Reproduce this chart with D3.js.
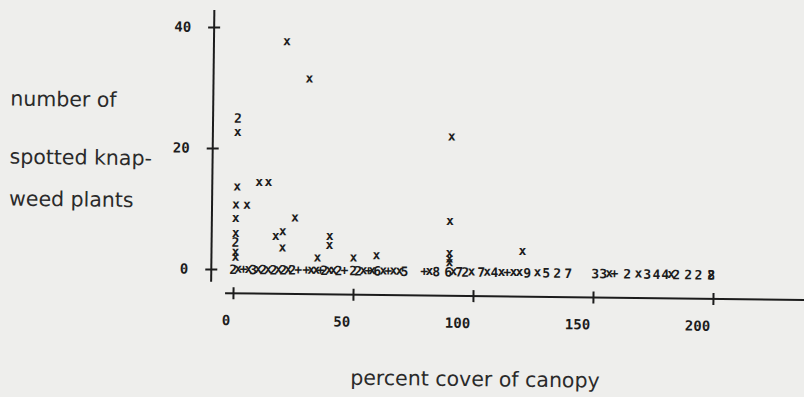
<!DOCTYPE html>
<html>
<head>
<meta charset="utf-8">
<script src="https://cdn.jsdelivr.net/npm/d3@7"></script>
<style>
  html, body { margin: 0; padding: 0; background: #eeeeec; }
  svg { display: block; }
</style>
</head>
<body>
<svg id="chart" width="804" height="397"></svg>
<script>
// ---- data ----
const xTicks = [0, 50, 100, 150, 200];
const yTicks = [0, 20, 40];
const xTitle = "percent cover of canopy";
const yTitleLines = ["number of", "spotted knap-", "weed plants"];

// single points printed as "x"
const crossX = [1.2, 21.2, 30.8, 90.4, 1.2, 10.4, 14.2, 0.8, 5.4, 0.8, 25.4, 17.5, 20.4, 20.4,
                0.8, 0.8, 0.8, 35, 40, 40, 50, 59.6, 90, 90, 90, 90, 120.4];
const crossY = [22.6, 37.7, 31.6, 22.3, 13.6, 14.4, 14.4, 10.6, 10.6, 8.4, 8.6, 5.5, 6.3, 3.6,
                5.9, 2.8, 2.0, 2.0, 5.6, 4.1, 2.1, 2.5, 8.3, 3.0, 2.1, 1.5, 3.5];

// overlapping points printed as a count
const countX = [1.2, 0.8];
const countY = [25.0, 4.5];
const countLabel = ["2", "2"];

// crowded row of points at zero plants (symbol printed at y = 0)
const baseX = [0, 2.1, 4.2, 6.3, 8.3, 10.4, 12.5, 14.6, 16.7, 18.8, 20.8, 22.9, 24.6, 27.1,
               30.4, 32.5, 34.6, 36.3, 37.9, 40, 41.7, 43.8, 46.3,
               50, 52.1, 54.2, 56.3, 57.9, 60, 62.5, 64.6, 66.7, 69.2, 71.3,
               79.6, 81.7, 84.6, 89.6, 91.7, 94.2, 96.7, 99.2,
               103.3, 105.8, 108.8, 111.7, 114.2, 116.7, 119.2, 122.5, 126.7, 130.4,
               135, 139.6, 150.8, 154.2, 156.7, 158.8, 164.2, 168.8, 172.5, 176.3, 180,
               182.5, 184.6, 189.6, 193.8, 199.2, 199.2];
const baseLabel = ["2", "x", "+", "x", "3", "x", "2", "x", "2", "x", "2", "x", "2", "+",
                   "+", "x", "x", "+", "2", "x", "x", "2", "+",
                   "2", "2", "x", "+", "x", "6", "x", "+", "x", "x", "5",
                   "+", "x", "8", "6", "x", "7", "2", "x",
                   "7", "x", "4", "x", "+", "x", "x", "9", "x", "5",
                   "2", "7", "3", "3", "x", "+", "2", "x", "3", "4", "4",
                   "x", "2", "2", "2", "2", "8"];

// ---- drawing ----
const svg = d3.select("#chart");
const ink = "#1c1c1c";
const mono = "'DejaVu Sans Mono', monospace";

// whole page slightly rotated, like the scanned original
const g = svg.append("g").attr("transform", "rotate(0.68, 211, 293)");

const x = d3.scaleLinear().domain([0, 200]).range([233, 713]);
const y = d3.scaleLinear().domain([0, 40]).range([269, 27]);
const xAxisY = 293, yAxisX = 211;

// x axis
const xAxis = g.append("g").attr("transform", `translate(0,${xAxisY})`)
  .call(d3.axisBottom(x).tickValues(xTicks).tickSize(6).tickPadding(16).tickFormat(d3.format("d")));
xAxis.select(".domain").remove();
xAxis.selectAll(".tick line").attr("y1", -6).attr("y2", 6).attr("stroke", ink).attr("stroke-width", 2);
xAxis.selectAll(".tick text").attr("text-anchor", "end").attr("dx", "-3")
  .attr("font-family", mono).attr("font-size", 14).attr("font-weight", "bold").attr("fill", ink);
xAxis.append("line").attr("x1", x(-3.3)).attr("x2", x(240)).attr("y1", 0).attr("y2", 0)
  .attr("stroke", ink).attr("stroke-width", 2);

// y axis
const yAxis = g.append("g").attr("transform", `translate(${yAxisX},0)`)
  .call(d3.axisLeft(y).tickValues(yTicks).tickSize(6).tickPadding(17).tickFormat(d3.format("d")));
yAxis.select(".domain").remove();
yAxis.selectAll(".tick line").attr("x1", -6).attr("x2", 6).attr("stroke", ink).attr("stroke-width", 2);
yAxis.selectAll(".tick text")
  .attr("font-family", mono).attr("font-size", 14).attr("font-weight", "bold").attr("fill", ink);
yAxis.append("line").attr("x1", 0).attr("x2", 0).attr("y1", y(-2.1)).attr("y2", y(42.8))
  .attr("stroke", ink).attr("stroke-width", 2);

// markers
const markFont = 13;
function dyFor(lbl) { return lbl === "x" ? 3.5 : (lbl === "+" ? 4 : 4.7); }

const crosses = crossX.map((v, i) => ({ xv: v, yv: crossY[i], lbl: "x" }));
const counts = countX.map((v, i) => ({ xv: v, yv: countY[i], lbl: countLabel[i] }));
const base = baseX.map((v, i) => ({ xv: v, yv: 0, lbl: baseLabel[i] }));

g.append("g").selectAll("text").data(crosses.concat(counts, base)).join("text")
  .attr("x", d => x(d.xv))
  .attr("y", d => y(d.yv))
  .attr("dy", d => dyFor(d.lbl))
  .attr("text-anchor", "middle")
  .attr("font-family", mono).attr("font-size", markFont).attr("font-weight", "bold")
  .attr("fill", ink)
  .text(d => d.lbl);

// titles
const titleFont = "'DejaVu Sans', 'Open Sans', sans-serif";
g.append("text").attr("x", 476).attr("y", 383).attr("text-anchor", "middle")
  .attr("font-family", titleFont).attr("font-size", 20.5).attr("fill", "#2a2a2a").text(xTitle);

const yLineBase = [108, 166, 208];
g.append("g").selectAll("text").data(yTitleLines).join("text")
  .attr("x", 8).attr("y", (d, i) => yLineBase[i])
  .attr("font-family", titleFont).attr("font-size", 20.5).attr("fill", "#2a2a2a")
  .text(d => d);
</script>
</body>
</html>
